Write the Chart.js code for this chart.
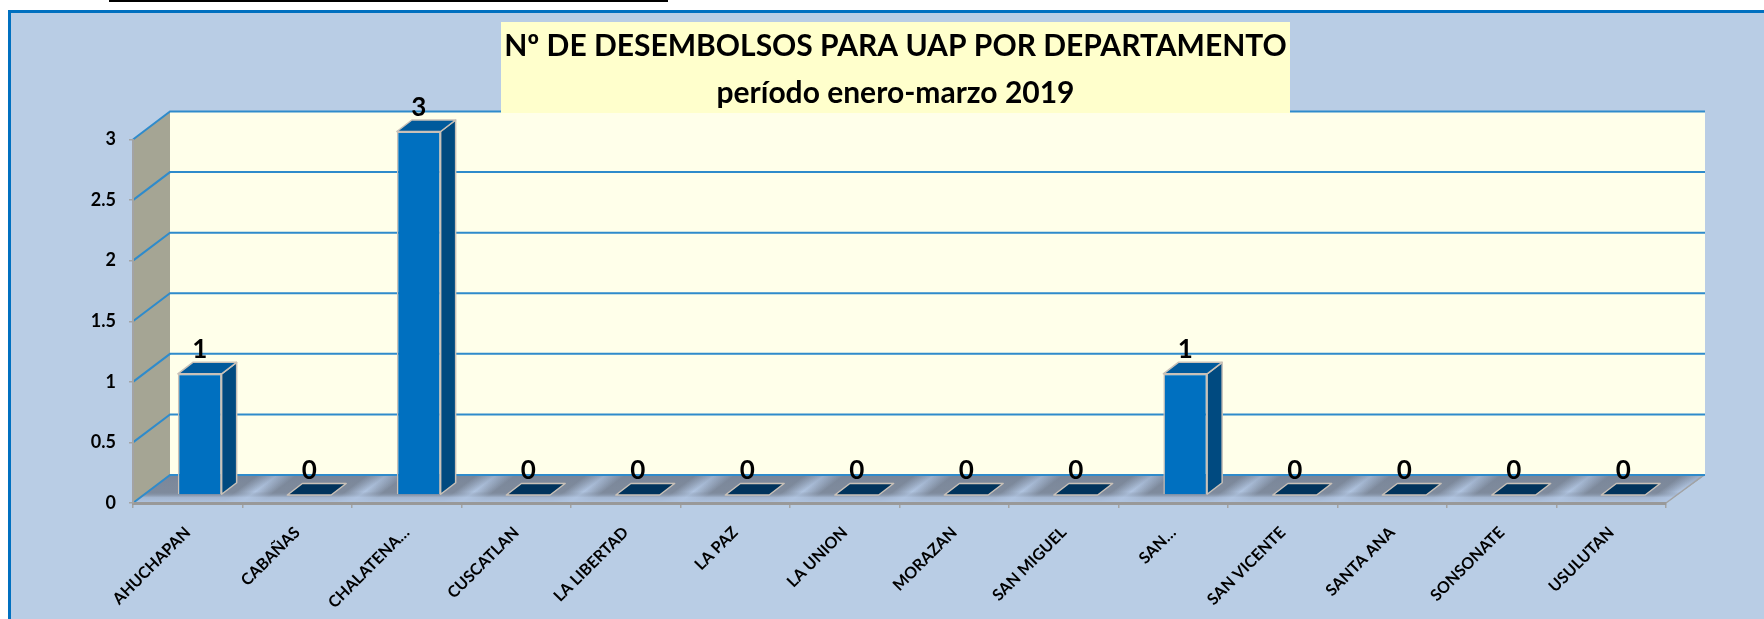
<!DOCTYPE html>
<html lang="es">
<head>
<meta charset="utf-8">
<style>html,body{margin:0;padding:0;background:#fff;overflow:hidden}canvas{display:block}</style>
<script src="https://cdn.jsdelivr.net/npm/chart.js@4"></script>
</head>
<body>
<canvas id="c" width="1764" height="619"></canvas>
<script>
const categories = ["AHUCHAPAN","CABAÑAS","CHALATENA…","CUSCATLAN","LA LIBERTAD","LA PAZ","LA UNION","MORAZAN","SAN MIGUEL","SAN…","SAN VICENTE","SANTA ANA","SONSONATE","USULUTAN"];
const values = [1,0,3,0,0,0,0,0,0,1,0,0,0,0];
const titleLines = ["Nº DE DESEMBOLSOS PARA UAP POR DEPARTAMENTO","período enero-marzo 2019"];
const yMax = 3, yStep = 0.5;

const WALL_DX = 37, WALL_DY = 28;   // depth of the floor / side wall
const BAR_OX = 12, BAR_OY = 8;      // front of a bar sits this far into the depth
const BAR_DX = 15, BAR_DY = 11.5;   // depth of a bar
const BORDER = '#C9C1B8';
const FONT = 'Lato, sans-serif';

function poly(ctx, pts, fill, stroke, lw){
  ctx.beginPath();
  pts.forEach((p,i)=> i?ctx.lineTo(p[0],p[1]):ctx.moveTo(p[0],p[1]));
  ctx.closePath();
  if(fill){ctx.fillStyle=fill;ctx.fill();}
  if(stroke){ctx.strokeStyle=stroke;ctx.lineWidth=lw||1;ctx.lineJoin='round';ctx.stroke();}
}

const stage = {
  id:'stage',
  afterLayout(chart){
    // centre the title over its panel
    chart.titleBlock.left = 125;
    chart.titleBlock.right = 1666;
  },
  beforeDraw(chart){
    const {ctx,chartArea:a,scales:{x,y}} = chart;
    const w = chart.width, h = chart.height;
    ctx.save();
    // page + frame
    ctx.fillStyle='#fff';ctx.fillRect(0,0,w,h);
    ctx.fillStyle='#B9CDE5';ctx.fillRect(9,11,w-9,h-11);
    ctx.fillStyle='#0070C0';ctx.fillRect(8,10,w-8,3);ctx.fillRect(8,10,3,h-10);
    ctx.fillStyle='#000';ctx.fillRect(109,0,559,2);

    const y0=y.getPixelForValue(0), yT=y.getPixelForValue(yMax);
    // back wall
    ctx.fillStyle='#FFFFEA';
    ctx.fillRect(a.left+WALL_DX,yT-WALL_DY,a.right-a.left+2,y0-yT);
    // left wall
    poly(ctx,[[a.left,yT],[a.left+WALL_DX,yT-WALL_DY],[a.left+WALL_DX,y0-WALL_DY],[a.left,y0]],'#A5A594');
    // floor with repeating diagonal bands
    ctx.save();
    ctx.beginPath();
    ctx.moveTo(a.left,y0);ctx.lineTo(a.left+WALL_DX,y0-WALL_DY);
    ctx.lineTo(a.right+WALL_DX+2,y0-WALL_DY);ctx.lineTo(a.right,y0);ctx.closePath();ctx.clip();
    ctx.fillStyle='#7E8A9C';ctx.fillRect(a.left,y0-WALL_DY,a.right-a.left+WALL_DX+2,WALL_DY);
    const cw = x.getPixelForValue(1)-x.getPixelForValue(0);
    categories.forEach((c,i)=>{
      const px = x.getPixelForValue(i)-cw/2+cw*0.98;
      const sl = cw*0.18;
      const g = ctx.createLinearGradient(px-sl,0,px+sl,0);
      g.addColorStop(0,'rgba(176,196,224,0)');
      g.addColorStop(0.5,'rgba(176,196,224,1)');
      g.addColorStop(1,'rgba(176,196,224,0)');
      ctx.save();
      ctx.transform(1,0,-WALL_DX/WALL_DY,1,y0*WALL_DX/WALL_DY,0);
      ctx.fillStyle=g;ctx.fillRect(px-sl,y0-WALL_DY,2*sl,WALL_DY);
      ctx.restore();
    });
    const lip = ctx.createLinearGradient(0,y0-WALL_DY,0,y0);
    lip.addColorStop(0,'rgba(110,124,145,0.35)');
    lip.addColorStop(0.6,'rgba(126,138,156,0)');
    lip.addColorStop(0.8,'rgba(176,196,224,0.75)');
    lip.addColorStop(1,'rgba(176,196,224,1)');
    ctx.fillStyle=lip;ctx.fillRect(a.left,y0-WALL_DY,a.right-a.left+WALL_DX+2,WALL_DY);
    ctx.restore();
    // right floor edge
    ctx.strokeStyle='#A3A3A3';ctx.lineWidth=1.5;
    ctx.beginPath();ctx.moveTo(a.right,y0);ctx.lineTo(a.right+WALL_DX+1,y0-WALL_DY);ctx.stroke();
    // grid lines: diagonal on the left wall, then along the back wall
    y.ticks.forEach(t=>{
      const py=y.getPixelForValue(t.value);
      ctx.strokeStyle='#2F8BCB';ctx.lineWidth=2;
      ctx.beginPath();ctx.moveTo(a.left,py);ctx.lineTo(a.left+WALL_DX,py-WALL_DY);
      ctx.lineTo(a.right+WALL_DX+2,py-WALL_DY);ctx.stroke();
    });
    // title panel
    ctx.fillStyle='#FFFFCC';ctx.fillRect(501,22,789,91);
    ctx.restore();
  },
  beforeDatasetsDraw(chart){
    const {ctx} = chart;
    ctx.save();
    ctx.translate(BAR_OX,-BAR_OY);
    const m = chart.getDatasetMeta(0);
    m.data.forEach((b,i)=>{
      if(values[i]!==0) return;
      const l=b.x-b.width/2, r=b.x+b.width/2, yb=b.base;
      poly(ctx,[[l,yb],[r,yb],[r+BAR_DX,yb-BAR_DY],[l+BAR_DX,yb-BAR_DY]],'#00335C',BORDER,1.5);
    });
    m.data.forEach((b,i)=>{
      if(values[i]===0) return;
      const l=b.x-b.width/2, r=b.x+b.width/2, yt=b.y, yb=b.base;
      poly(ctx,[[r,yt],[r+BAR_DX,yt-BAR_DY],[r+BAR_DX,yb-BAR_DY],[r,yb]],'#004A80',BORDER,1.5);
      poly(ctx,[[l,yt],[r,yt],[r+BAR_DX,yt-BAR_DY],[l+BAR_DX,yt-BAR_DY]],'#005A9C',BORDER,1.5);
    });
  },
  afterDatasetsDraw(chart){
    const {ctx} = chart;
    const m = chart.getDatasetMeta(0);
    ctx.fillStyle='#000';
    ctx.font='700 26px '+FONT;
    ctx.textAlign='center';ctx.textBaseline='middle';
    m.data.forEach((b,i)=>{
      ctx.fillText(String(values[i]), b.x, b.y-24);
    });
    ctx.restore();
  }
};

new Chart(document.getElementById('c'),{
  type:'bar',
  data:{labels:categories,datasets:[{
    data:values,
    backgroundColor:'#0070C0',
    borderColor:BORDER,
    borderWidth:ctx=>ctx.raw===0?0:1.5,
    barPercentage:0.4,
    categoryPercentage:1
  }]},
  plugins:[stage],
  options:{
    responsive:false,animation:false,
    layout:{padding:{left:70,right:98,top:10,bottom:0}},
    plugins:{
      legend:{display:false},tooltip:{enabled:false},
      title:{display:true,text:titleLines,color:'#000',
        font:{family:FONT,size:30,weight:'700',lineHeight:'47px'},
        padding:{top:12.5,bottom:23}}
    },
    scales:{
      x:{
        afterFit(s){s.height=116;},
        grid:{drawOnChartArea:false,drawTicks:true,tickLength:5,color:'#A3A3A3',lineWidth:1.5,offset:true},
        border:{color:'#999',width:3},
        ticks:{autoSkip:false,minRotation:45,maxRotation:45,color:'#000',padding:15,
          font:{family:FONT,size:16,weight:'700'}}
      },
      y:{
        min:0,max:yMax,
        afterFit(s){s.width=63;},
        grid:{drawOnChartArea:false,drawTicks:true,tickLength:4,color:'#A3A3A3',lineWidth:1.5},
        border:{color:'#A3A3A3',width:2},
        ticks:{stepSize:yStep,color:'#000',padding:13,callback:v=>String(v),
          font:{family:FONT,size:18,weight:'700'}}
      }
    }
  }
});
</script>
</body>
</html>
